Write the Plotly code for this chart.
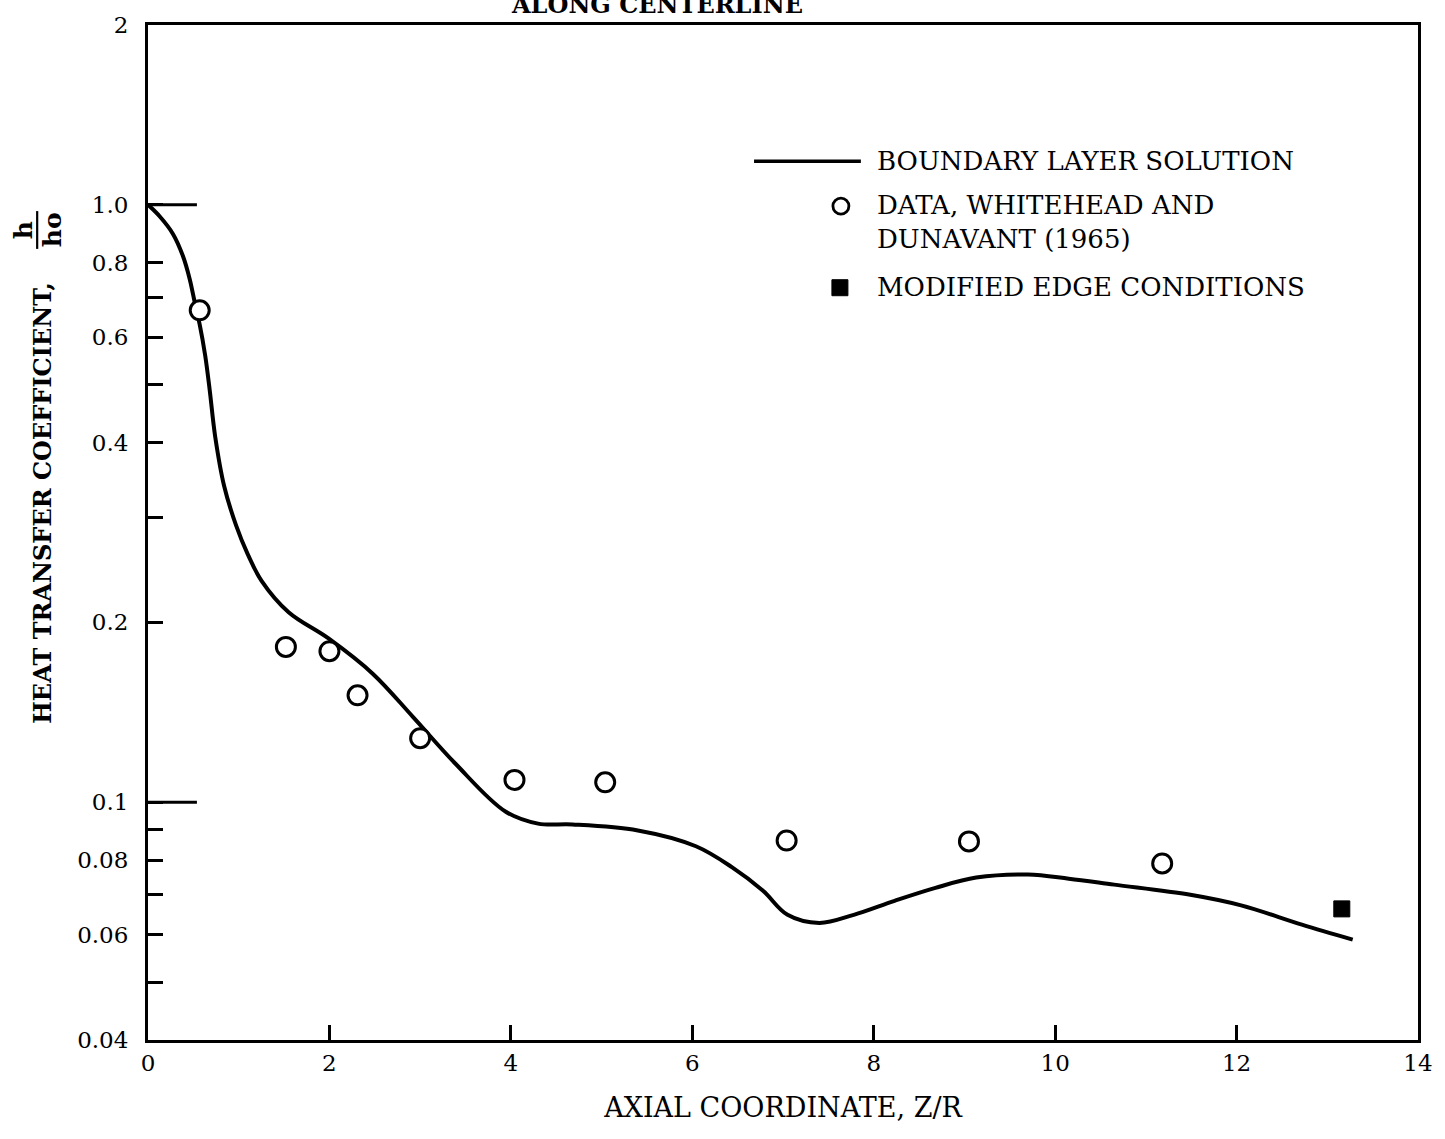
import math
import plotly.graph_objects as go

# Boundary layer solution, h/ho along the centerline
curve_x = [0.0, 0.13, 0.275, 0.385, 0.46, 0.52, 0.57, 0.63, 0.68, 0.74, 0.84, 0.97,
           1.10, 1.25, 1.55, 1.99, 2.48, 2.92, 3.39, 3.94, 4.30, 4.68, 5.40, 6.04,
           6.44, 6.78, 7.05, 7.40, 7.78, 8.23, 8.68, 9.13, 9.70, 10.15, 10.65, 11.49,
           12.05, 12.72, 13.28]
curve_y = [1.0, 0.956, 0.894, 0.821, 0.751, 0.681, 0.630, 0.560, 0.490, 0.410, 0.338, 0.291,
           0.260, 0.235, 0.208, 0.188, 0.164, 0.139, 0.116, 0.0965, 0.0921, 0.0918, 0.0897, 0.0844,
           0.0778, 0.0711, 0.0648, 0.0628, 0.0648, 0.0684, 0.0719, 0.0748, 0.0757, 0.0745, 0.0728, 0.0700,
           0.0672, 0.0624, 0.0589]

# Whitehead and Dunavant (1965) measurements
data_x = [0.57, 1.52, 2.0, 2.31, 3.0, 4.04, 5.04, 7.04, 9.05, 11.18]
data_y = [0.666, 0.182, 0.179, 0.151, 0.128, 0.109, 0.108, 0.0863, 0.0860, 0.0790]

# Modified edge conditions
mod_x = [13.16]
mod_y = [0.0663]

x_ticks = [0, 2, 4, 6, 8, 10, 12, 14]
y_tick_vals = [2, 1.0, 0.8, 0.6, 0.4, 0.2, 0.1, 0.08, 0.06, 0.04]
y_tick_text = ["2", "1.0", "0.8", "0.6", "0.4", "0.2", "0.1", "0.08", "0.06", "0.04"]
y_minor_vals = [0.7, 0.5, 0.3, 0.09, 0.07, 0.05]
y_long_ticks = [1.0, 0.1]

legend_labels = ["BOUNDARY LAYER SOLUTION", "DATA, WHITEHEAD AND<br>DUNAVANT (1965)",
                 "MODIFIED EDGE CONDITIONS"]

Y_MIN, Y_MAX = 0.04, 2.0
W, H = 1445, 1139
ML, MR, MT, MB = 148, 25, 20, 99
PW, PH = W - ML - MR, H - MT - MB

SERIF = "DejaVu Serif"


def px_x(px):
    return (px - ML) / PW


def px_y(py):
    return (H - MB - py) / PH


fig = go.Figure()

fig.add_trace(go.Scatter(
    x=curve_x, y=curve_y, mode="lines", name=legend_labels[0],
    line=dict(color="black", width=4, shape="spline", smoothing=1.0),
    showlegend=False, hoverinfo="skip"))

fig.add_trace(go.Scatter(
    x=data_x, y=data_y, mode="markers", name="DATA, WHITEHEAD AND DUNAVANT (1965)",
    marker=dict(symbol="circle", size=19, color="white", line=dict(color="black", width=3)),
    showlegend=False))

fig.add_trace(go.Scatter(
    x=mod_x, y=mod_y, mode="markers", name=legend_labels[2],
    marker=dict(symbol="square", size=16, color="black", line=dict(color="black", width=1)),
    showlegend=False))

fig.update_xaxes(
    range=[0, 14], tickvals=x_ticks, ticktext=[str(v) for v in x_ticks],
    ticks="inside", ticklen=15, tickwidth=2.5, tickcolor="black",
    showline=True, linecolor="black", linewidth=3, mirror=True,
    showgrid=False, zeroline=False, ticklabelstandoff=0,
    tickfont=dict(family=SERIF, size=23, color="black"),
    title=dict(text="AXIAL COORDINATE, Z/R", standoff=24,
               font=dict(family=SERIF, size=27, color="black")),
)

fig.update_yaxes(
    type="log", range=[math.log10(Y_MIN), math.log10(Y_MAX)],
    tickvals=y_tick_vals, ticktext=y_tick_text,
    ticks="inside", ticklen=15, tickwidth=2.5, tickcolor="black",
    minor=dict(tickvals=y_minor_vals, ticks="inside", ticklen=15, tickwidth=2.5,
               tickcolor="black", showgrid=False),
    showline=True, linecolor="black", linewidth=3, mirror=True,
    showgrid=False, zeroline=False, ticklabelstandoff=12,
    tickfont=dict(family=SERIF, size=23, color="black"),
)

shapes = []
# long ticks at the decades
span = math.log10(Y_MAX) - math.log10(Y_MIN)
for v in y_long_ticks:
    fy = (math.log10(v) - math.log10(Y_MIN)) / span
    shapes.append(dict(type="line", xref="paper", yref="paper", x0=0, x1=px_x(197),
                       y0=fy, y1=fy, line=dict(color="black", width=3)))

# legend samples
shapes.append(dict(type="line", xref="paper", yref="paper", x0=px_x(755), x1=px_x(862),
                   y0=px_y(157), y1=px_y(157), line=dict(color="black", width=3.5)))
shapes.append(dict(type="circle", xref="paper", yref="paper", xsizemode="pixel", ysizemode="pixel",
                   xanchor=px_x(842), yanchor=px_y(202), x0=-8, x1=8, y0=-8, y1=8,
                   line=dict(color="black", width=2.8), fillcolor="white"))
shapes.append(dict(type="rect", xref="paper", yref="paper", xsizemode="pixel", ysizemode="pixel",
                   xanchor=px_x(841), yanchor=px_y(284), x0=-8, x1=8, y0=-8, y1=8,
                   line=dict(color="black", width=1), fillcolor="black"))

# fraction bar of h/ho in the y-axis title
shapes.append(dict(type="line", xref="paper", yref="paper", x0=px_x(37), x1=px_x(37),
                   y0=px_y(207), y1=px_y(245), line=dict(color="black", width=2.2)))

legend_font = dict(family=SERIF, size=26, color="black")
annotations = [
    dict(text=legend_labels[0], x=px_x(876), y=px_y(157), xref="paper", yref="paper",
         xanchor="left", yanchor="middle", showarrow=False, align="left", font=legend_font),
    dict(text=legend_labels[1], x=px_x(876), y=px_y(218), xref="paper", yref="paper",
         xanchor="left", yanchor="middle", showarrow=False, align="left", font=legend_font),
    dict(text=legend_labels[2], x=px_x(876), y=px_y(283), xref="paper", yref="paper",
         xanchor="left", yanchor="middle", showarrow=False, align="left", font=legend_font),
    # y-axis title
    dict(text="<b>HEAT TRANSFER COEFFICIENT,</b>", x=px_x(42), y=px_y(500), xref="paper", yref="paper",
         xanchor="center", yanchor="middle", showarrow=False, textangle=-90,
         font=dict(family=SERIF, size=24, color="black")),
    dict(text="<b>h</b>", x=px_x(24), y=px_y(226), xref="paper", yref="paper",
         xanchor="center", yanchor="middle", showarrow=False, textangle=-90,
         font=dict(family=SERIF, size=25, color="black")),
    dict(text="<b>ho</b>", x=px_x(53), y=px_y(226), xref="paper", yref="paper",
         xanchor="center", yanchor="middle", showarrow=False, textangle=-90,
         font=dict(family=SERIF, size=25, color="black")),
    # heading partly above the page edge
    dict(text="<b>ALONG CENTERLINE</b>", x=px_x(658), y=px_y(16), xref="paper", yref="paper",
         xanchor="center", yanchor="bottom", showarrow=False,
         font=dict(family=SERIF, size=24, color="black")),
]

fig.update_layout(
    width=W, height=H,
    margin=dict(l=ML, r=MR, t=MT, b=MB),
    paper_bgcolor="white", plot_bgcolor="white",
    showlegend=False,
    shapes=shapes, annotations=annotations,
)

fig.write_html("out.html")
